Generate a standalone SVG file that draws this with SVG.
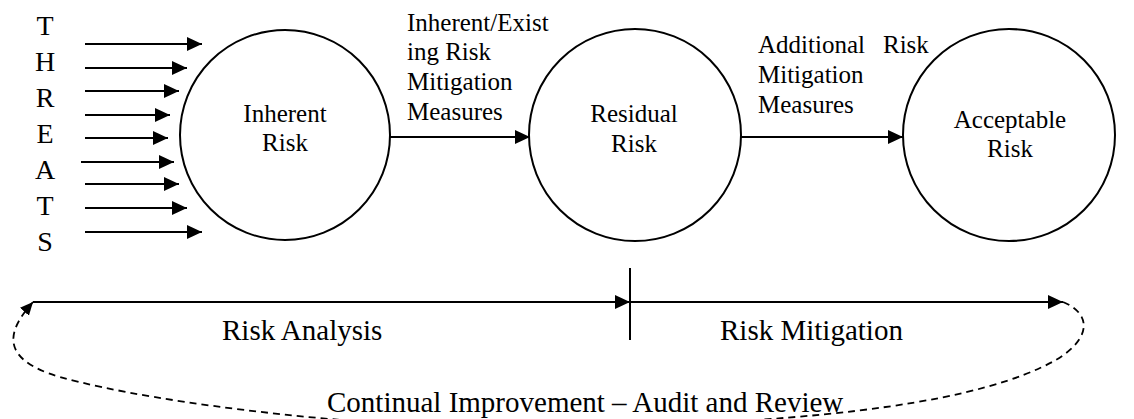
<svg xmlns="http://www.w3.org/2000/svg" width="1134" height="419" viewBox="0 0 1134 419" font-family="'Liberation Serif', 'Times New Roman', 'DejaVu Serif', serif">
<style>
text{fill:#000}
.n{font-size:25px}
.big{font-size:29px}
.let{font-size:28px}
.c{fill:#fff;stroke:#000;stroke-width:2}
.ln{fill:none;stroke:#000;stroke-width:2}
.ds{fill:none;stroke:#000;stroke-width:1.8;stroke-dasharray:7 5}
</style>
<defs>
<marker id="ah" markerUnits="userSpaceOnUse" markerWidth="16" markerHeight="14" refX="15" refY="7" orient="auto">
<path d="M0,0 L15,7 L0,14 z" fill="#000"/>
</marker>
<marker id="ahs" markerUnits="userSpaceOnUse" markerWidth="14" markerHeight="12" refX="13" refY="6" orient="auto">
<path d="M0,0 L13,6 L0,12 z" fill="#000"/>
</marker>
</defs>

<g id="threats">
<text class="let" text-anchor="middle" x="45" y="35">T</text>
<text class="let" text-anchor="middle" x="45" y="71">H</text>
<text class="let" text-anchor="middle" x="45" y="107">R</text>
<text class="let" text-anchor="middle" x="45" y="143">E</text>
<text class="let" text-anchor="middle" x="45" y="179">A</text>
<text class="let" text-anchor="middle" x="45" y="215">T</text>
<text class="let" text-anchor="middle" x="45" y="251">S</text>
</g>

<g id="inherent-risk">
<circle class="c" cx="285" cy="135" r="105"/>
<text class="n" text-anchor="middle" x="285" y="122">Inherent</text>
<text class="n" text-anchor="middle" x="285" y="151">Risk</text>
</g>

<g id="residual-risk">
<circle class="c" cx="635" cy="135" r="106"/>
<text class="n" text-anchor="middle" x="634" y="122">Residual</text>
<text class="n" text-anchor="middle" x="634" y="152">Risk</text>
</g>

<g id="acceptable-risk">
<circle class="c" cx="1009" cy="135" r="106"/>
<text class="n" text-anchor="middle" x="1010" y="128">Acceptable</text>
<text class="n" text-anchor="middle" x="1010" y="157">Risk</text>
</g>

<g id="connectors">
<line class="ln" x1="85" y1="44" x2="202" y2="44" marker-end="url(#ah)"/>
<line class="ln" x1="85" y1="68" x2="187" y2="68" marker-end="url(#ah)"/>
<line class="ln" x1="85" y1="91" x2="179" y2="91" marker-end="url(#ah)"/>
<line class="ln" x1="85" y1="115" x2="170" y2="115" marker-end="url(#ah)"/>
<line class="ln" x1="85" y1="138" x2="168" y2="138" marker-end="url(#ah)"/>
<line class="ln" x1="81" y1="162" x2="174" y2="162" marker-end="url(#ah)"/>
<line class="ln" x1="85" y1="184" x2="179" y2="184" marker-end="url(#ah)"/>
<line class="ln" x1="85" y1="208" x2="187" y2="208" marker-end="url(#ah)"/>
<line class="ln" x1="85" y1="232" x2="202" y2="232" marker-end="url(#ah)"/>
<line class="ln" x1="390" y1="137" x2="530" y2="137" marker-end="url(#ah)"/>
<line class="ln" x1="741" y1="137" x2="903" y2="137" marker-end="url(#ah)"/>
<line class="ln" x1="33" y1="302" x2="630" y2="302" marker-end="url(#ah)"/>
<line class="ln" x1="630" y1="302" x2="1063" y2="302" marker-end="url(#ah)"/>
<line class="ln" x1="630" y1="268" x2="630" y2="340"/>
<path class="ds" d="M1063,302 C1095,315 1092,345 1040,368 C960,405 800,425 535,428 C380,430 160,405 60,377 C-5,358 10,328 33,302" marker-end="url(#ahs)"/>
</g>

<g id="labels">
<text class="n" x="407" y="31">Inherent/Exist</text>
<text class="n" x="407" y="60">ing Risk</text>
<text class="n" x="407" y="90">Mitigation</text>
<text class="n" x="407" y="120">Measures</text>
<text class="n" x="758" y="53">Additional <tspan x="883">Risk</tspan></text>
<text class="n" x="758" y="83">Mitigation</text>
<text class="n" x="758" y="113">Measures</text>
<text class="big" x="222" y="340">Risk Analysis</text>
<text class="big" x="720" y="340">Risk Mitigation</text>
<text class="big" x="327" y="412">Continual Improvement – Audit and Review</text>
</g>
</svg>
